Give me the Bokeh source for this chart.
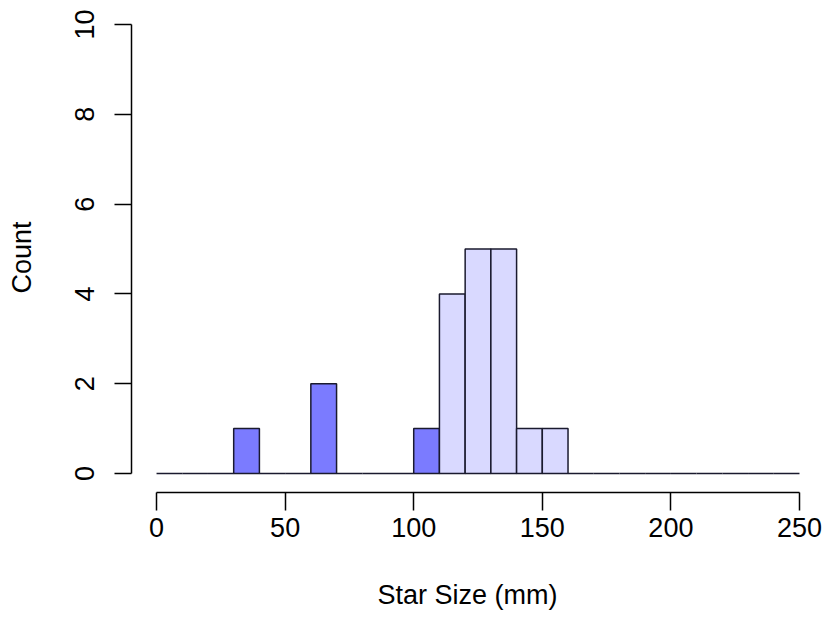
from bokeh.plotting import figure
from bokeh.models import FixedTicker, Range1d, ColumnDataSource
from bokeh.embed import file_html
from bokeh.resources import INLINE

# ---- data ----
bin_left = [0, 10, 20, 30, 40, 50, 60, 70, 80, 90, 100, 110, 120,
            130, 140, 150, 160, 170, 180, 190, 200, 210, 220, 230, 240]
bin_right = [10, 20, 30, 40, 50, 60, 70, 80, 90, 100, 110, 120, 130,
             140, 150, 160, 170, 180, 190, 200, 210, 220, 230, 240, 250]
counts = [0, 0, 0, 1, 0, 0, 2, 0, 0, 0, 1, 4, 5,
          5, 1, 1, 0, 0, 0, 0, 0, 0, 0, 0, 0]
highlight_below = 110          # bins left of this edge are the darker group
x_ticks = [0, 50, 100, 150, 200, 250]
y_ticks = [0, 2, 4, 6, 8, 10]
x_label = "Star Size (mm)"
y_label = "Count"

# ---- styles ----
DARK = "#7b7bff"
LIGHT = "#d9d9ff"
EDGE = "#1a1a2e"
FONT = "Liberation Sans"

fill = [DARK if r <= highlight_below else LIGHT for r in bin_right]
nz = [i for i, c in enumerate(counts) if c > 0]
zz = [i for i, c in enumerate(counts) if c == 0]

bars = ColumnDataSource(dict(
    left=[bin_left[i] for i in nz], right=[bin_right[i] for i in nz],
    top=[counts[i] for i in nz], bottom=[0] * len(nz),
    color=[fill[i] for i in nz]))
flat = ColumnDataSource(dict(
    x0=[bin_left[i] for i in zz], x1=[bin_right[i] for i in zz],
    y=[counts[i] for i in zz]))

p = figure(width=824, height=631, output_backend="svg", toolbar_location=None,
           title=None,
           x_range=Range1d(-9.735, 251.56), y_range=Range1d(-0.423, 10.045),
           min_border_left=131, min_border_right=21,
           min_border_top=22, min_border_bottom=139)

p.quad(left="left", right="right", top="top", bottom="bottom", source=bars,
       fill_color="color", line_color=EDGE, line_width=1.5)
p.segment(x0="x0", x1="x1", y0="y", y1="y", source=flat,
          line_color=EDGE, line_width=1.5)

p.grid.visible = False
p.outline_line_color = None
p.background_fill_color = "white"
p.border_fill_color = "white"

xa = p.xaxis[0]
xa.bounds = (x_ticks[0], x_ticks[-1])
xa.ticker = FixedTicker(ticks=x_ticks, minor_ticks=[])
xa.major_tick_in = 0
xa.major_tick_out = 18
xa.axis_line_width = 1.5
xa.major_tick_line_width = 1.5
xa.major_label_text_font = FONT
xa.major_label_text_font_size = "27px"
xa.major_label_text_color = "black"
xa.major_label_standoff = 7
xa.axis_label = x_label
xa.axis_label_text_font = FONT
xa.axis_label_text_font_size = "27px"
xa.axis_label_text_font_style = "normal"
xa.axis_label_text_color = "black"
xa.axis_label_standoff = 40

ya = p.yaxis[0]
ya.bounds = (y_ticks[0], y_ticks[-1])
ya.ticker = FixedTicker(ticks=y_ticks, minor_ticks=[])
ya.major_tick_in = 0
ya.major_tick_out = 17
ya.axis_line_width = 1.5
ya.major_tick_line_width = 1.5
ya.major_label_orientation = "vertical"
ya.major_label_text_font = FONT
ya.major_label_text_font_size = "27px"
ya.major_label_text_color = "black"
ya.major_label_standoff = 20
ya.axis_label = y_label
ya.axis_label_text_font = FONT
ya.axis_label_text_font_size = "27px"
ya.axis_label_text_font_style = "normal"
ya.axis_label_text_color = "black"
ya.axis_label_standoff = 36

open("out.html", "w").write(file_html(p, INLINE))
